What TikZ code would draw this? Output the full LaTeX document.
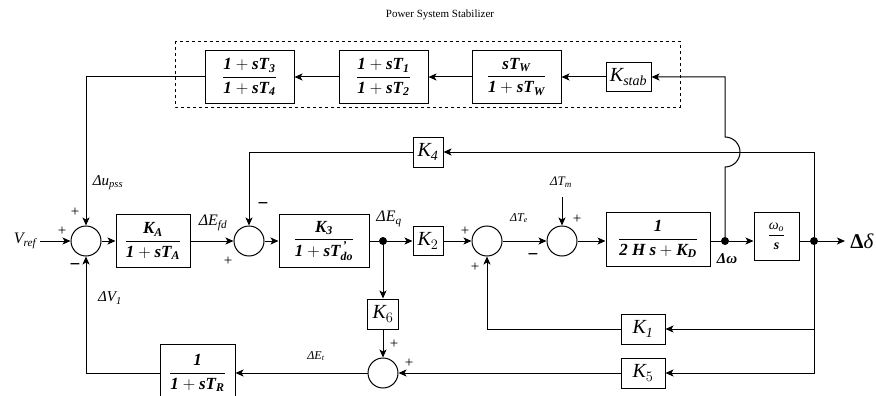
\documentclass[tikz,border=0pt]{standalone}
\usepackage{amsmath}
\usepackage{fontspec}
\setmainfont{Liberation Serif}
\usetikzlibrary{arrows.meta,positioning}
\newcommand\bfit[1]{\text{\bfseries\itshape #1}}
\newcommand\itx[1]{\text{\itshape #1}}

\begin{document}
\begin{tikzpicture}[x=1pt,y=-1pt, every node/.style={font=\fontsize{17}{20}\selectfont,inner sep=0pt}, blk/.style={draw,line width=1pt,minimum width=#1,minimum height=53pt}, gain/.style={draw,line width=1pt,minimum width=#1,minimum height=30pt,font=\fontsize{20}{23}\selectfont}, sumj/.style={draw,circle,line width=1pt,minimum size=30pt}, jdot/.style={circle,fill,minimum size=8pt}, lbl/.style={font=\fontsize{15}{17}\selectfont}, sgn/.style={font=\fontsize{15}{17}\selectfont}, arr/.style={-{Stealth[length=8pt,width=7pt,inset=2pt]},line width=1pt}, ln/.style={line width=1pt}]
\useasboundingbox (0,0) rectangle (876,396);
\node[font=\fontsize{11}{13}\selectfont] (title) at (440,15) {Power System Stabilizer};
\draw[dashed,line width=0.9pt] (175,41) rectangle (680,107);
\node[blk=89pt] (b34) at (249.5,77) {$\dfrac{\bfit{1} + \bfit{sT}_{\bfit{3}}}{\bfit{1} + \bfit{sT}_{\bfit{4}}}$};
\node[blk=89pt] (b12) at (383.5,77) {$\dfrac{\bfit{1} + \bfit{sT}_{\bfit{1}}}{\bfit{1} + \bfit{sT}_{\bfit{2}}}$};
\node[blk=89pt] (bw) at (516.5,77) {$\dfrac{\bfit{sT}_{\bfit{W}}}{\bfit{1} + \bfit{sT}_{\bfit{W}}}$};
\node[gain=45pt,minimum height=29pt] (ks) at (628.5,77) {$\itx{K}_{\itx{stab}}$};
\node[gain=30pt] (k4) at (428,152) {$\itx{K}_{\itx{4}}$};
\node[sumj] (s1) at (86,241) {};
\node[blk=74pt] (ka) at (153,241) {$\dfrac{\bfit{K}_{\bfit{A}}}{\bfit{1} + \bfit{sT}_{\bfit{A}}}$};
\node[sumj] (s2) at (249,241) {};
\node[blk=90pt] (k3) at (324,241) {$\dfrac{\bfit{K}_{\bfit{3}}}{\bfit{1} + \bfit{sT}^{\,\bfit{'}}_{\bfit{do}}}$};
\node[jdot] (eq) at (383,241) {};
\node[gain=30pt,minimum height=29pt] (k2) at (428,241) {$\itx{K}_{2}$};
\node[sumj] (s3) at (487,241) {};
\node[sumj] (s4) at (562,241) {};
\node[blk=104pt,minimum height=54pt] (hb) at (658,239) {$\dfrac{\bfit{1}}{\bfit{2 H s} + \bfit{K}_{\bfit{D}}}$};
\node[jdot] (dw) at (725,241) {};
\node[blk=45pt,minimum height=48pt,font=\fontsize{14}{16}\selectfont] (om) at (776.5,236) {$\dfrac{\itx{ω}_{\itx{o}}}{\bfit{s}}$};
\node[jdot] (dd) at (814,241) {};
\coordinate (out) at (845,241);
\node[gain=31pt] (k6) at (383,314) {$\itx{K}_{6}$};
\node[gain=44pt] (k1) at (643,329) {$\itx{K}_{\itx{1}}$};
\node[gain=44pt] (k5) at (643,373) {$\itx{K}_{5}$};
\node[sumj] (s5) at (383,373) {};
\node[blk=75pt,minimum height=58pt] (tr) at (197.5,373) {$\dfrac{\bfit{1}}{\bfit{1} + \bfit{sT}_{\bfit{R}}}$};
\coordinate (vin) at (40,241);\coordinate (tmin) at (562,197);
\node[lbl,font=\fontsize{16}{18}\selectfont] (vref) at (25,241) {$\itx{V}_{\itx{ref}}$};
\node[lbl] (upss) at (108,183) {$\itx{Δu}_{\itx{pss}}$};
\node[lbl] (dv1) at (110,298) {$\itx{ΔV}_{\itx{1}}$};
\node[lbl,font=\fontsize{16}{18}\selectfont] (efd) at (213,223) {$\itx{ΔE}_{\itx{fd}}$};
\node[lbl,font=\fontsize{16}{18}\selectfont] (leq) at (389,219) {$\itx{ΔE}_{\itx{q}}$};
\node[lbl,font=\fontsize{12}{14}\selectfont] (let) at (316,356) {$\itx{ΔE}_{\itx{t}}$};
\node[lbl,font=\fontsize{12}{14}\selectfont] (lte) at (519,218) {$\itx{ΔT}_{\itx{e}}$};
\node[lbl,font=\fontsize{13}{15}\selectfont] (ltm) at (561,182) {$\itx{ΔT}_{\itx{m}}$};
\node[font=\fontsize{15}{17}\selectfont] (ldw) at (727,259) {\textbf{\textit{Δω}}};
\node[font=\fontsize{21}{23}\selectfont] (ldd) at (862,241) {\textbf{Δ}\textit{δ}};
\node[sgn] at (75,212) {+};\node[sgn] at (62,231) {+};\node[sgn,font=\fontsize{19}{21}\selectfont] at (75,267) {\textbf{−}};
\node[sgn,font=\fontsize{19}{21}\selectfont] at (263,206) {\textbf{−}};\node[sgn] at (228,261) {+};
\node[sgn] at (394,344) {+};\node[sgn] at (409,363) {+};
\node[sgn] at (465,231) {+};\node[sgn] at (475,267) {+};
\node[sgn] at (577,219) {+};\node[sgn,font=\fontsize{19}{21}\selectfont] at (533,257) {\textbf{−}};
\draw[arr] (dw) -- (725,167) arc[start angle=-90,end angle=90,radius=15pt] -- (725,77) -- (ks.east);
\draw[arr] (ks) -- (bw);\draw[arr] (bw) -- (b12);\draw[arr] (b12) -- (b34);\draw[arr] (b34.west) -| (s1.north);
\draw[arr] (dd) |- (k4.east);\draw[arr] (k4.west) -| (s2.north);
\draw[arr] (vin) -- (s1.west);\draw[arr] (s1) -- (ka);\draw[arr] (ka) -- (s2);\draw[arr] (s2) -- (k3);
\draw[ln] (k3.east |- eq) -- (eq);\draw[arr] (eq) -- (k2);\draw[arr] (k2) -- (s3);\draw[arr] (s3) -- (s4);\draw[arr] (s4) -- (s4 -| hb.west);
\draw[ln] (s4 -| hb.east) -- (dw);\draw[arr] (dw) -- (dw -| om.west);\draw[ln] (dw -| om.east) -- (dd);\draw[arr] (dd) -- (out);
\draw[arr] (tmin) -- (s4.north);
\draw[arr] (eq) -- (k6);\draw[arr] (k6) -- (s5);
\draw[arr] (dd) |- (k5.east);\draw[arr] (k5) -- (s5);\draw[arr] (s5) -- (tr);\draw[arr] (tr.west) -| (s1.south);
\draw[arr] (dd |- k1) -- (k1.east);\draw[arr] (k1.west) -| (s3.south);
\end{tikzpicture}
\end{document}
